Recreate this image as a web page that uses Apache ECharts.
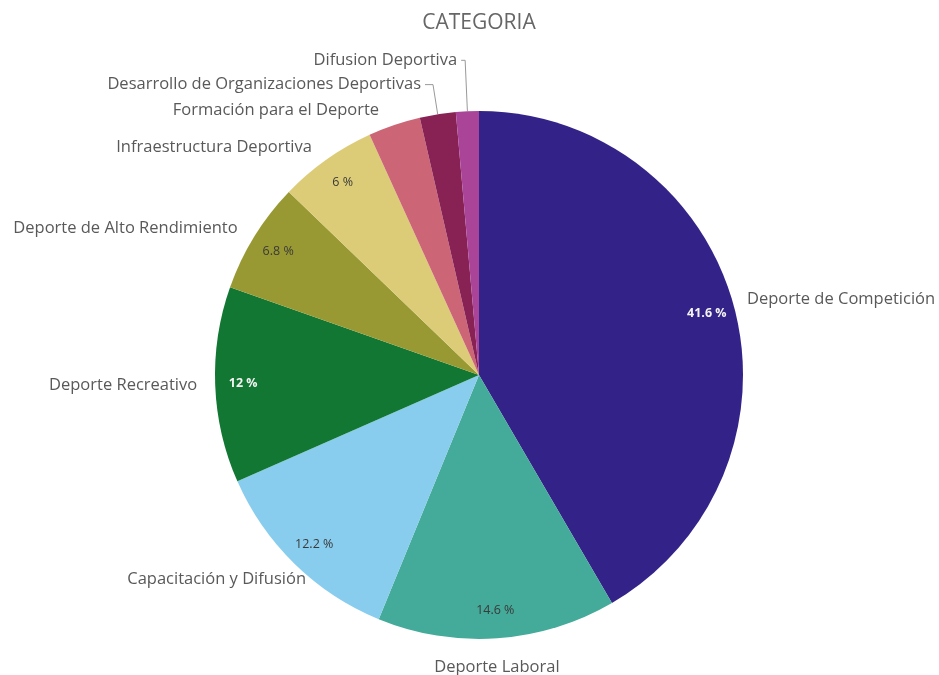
<!DOCTYPE html>
<html>
<head>
<meta charset="utf-8">
<script src="https://cdn.jsdelivr.net/npm/echarts@6/dist/echarts.min.js"></script>
<style>
html,body{margin:0;padding:0;background:#ffffff;}
#chart{width:939px;height:675px;}
</style>
</head>
<body>
<div id="chart"></div>
<script>
// ---- data ----
const titleText = 'CATEGORIA';
const categories = [
  'Deporte de Competición',
  'Deporte Laboral',
  'Capacitación y Difusión',
  'Deporte Recreativo',
  'Deporte de Alto Rendimiento',
  'Infraestructura Deportiva',
  'Formación para el Deporte',
  'Desarrollo de Organizaciones Deportivas',
  'Difusion Deportiva'
];
const values = [41.6, 14.6, 12.2, 12, 6.8, 6, 3.2, 2.2, 1.4];

// ---- styles / layout (kept apart from data) ----
const colors = ['#332288','#44AA99','#88CCEE','#117733','#999933','#DDCC77','#CC6677','#882255','#AA4499'];
// outer label placement tuning: [labelLine length, length2, vertical shift]
const labelTune = [[27,-17,0],[29,-69,0],[21,-30,0],[19,-5,22],[15,0,0],[15,2,0],[16,6,0],[30,8,0],[51,4,0]];
const showLine = [false,false,false,false,false,false,false,true,true];

function luminance(hex){
  const c = [1,3,5].map(i => parseInt(hex.substr(i,2),16)/255)
    .map(v => v <= 0.03928 ? v/12.92 : Math.pow((v+0.055)/1.055, 2.4));
  return 0.2126*c[0] + 0.7152*c[1] + 0.0722*c[2];
}

const FONT = '"Open Sans", "Noto Sans", sans-serif';
const CENTER = [479, 375];
const R = 264;

const outerData = categories.map((name, i) => {
  const t = labelTune[i];
  const shift = t[2];
  return {
    name: name,
    value: values[i],
    itemStyle: { color: colors[i] },
    label: { padding: shift >= 0 ? [shift*2, 0, 0, 0] : [0, 0, -shift*2, 0] },
    labelLine: { show: showLine[i], length: t[0], length2: t[1] }
  };
});

const innerData = categories.map((name, i) => {
  const dark = luminance(colors[i]) < 0.2;
  return {
    name: name,
    value: values[i],
    label: { color: dark ? '#f4f4f4' : '#3a3a3a', fontWeight: dark ? 'bold' : 'normal' }
  };
});

const chart = echarts.init(document.getElementById('chart'), null, { renderer: 'canvas' });
chart.setOption({
  animation: false,
  backgroundColor: '#ffffff',
  title: {
    text: titleText,
    left: CENTER[0],
    textAlign: 'center',
    top: 13,
    padding: 0,
    textStyle: { fontFamily: FONT, fontSize: 21, fontWeight: 'normal', color: '#666666' }
  },
  series: [
    {
      type: 'pie',
      center: CENTER,
      radius: R,
      startAngle: 90,
      clockwise: true,
      avoidLabelOverlap: false,
      silent: true,
      itemStyle: { borderWidth: 0 },
      label: {
        show: true,
        position: 'outside',
        formatter: '{b}',
        fontFamily: FONT,
        fontSize: 16.5,
        color: '#595959',
        distanceToLabelLine: 4
      },
      labelLine: { lineStyle: { color: '#999999', width: 1 }, smooth: false },
      data: outerData
    },
    {
      type: 'pie',
      center: CENTER,
      radius: [202, R],
      startAngle: 90,
      clockwise: true,
      avoidLabelOverlap: false,
      silent: true,
      itemStyle: { color: 'rgba(0,0,0,0)', borderWidth: 0 },
      label: {
        show: true,
        position: 'inside',
        fontFamily: FONT,
        fontSize: 12.5,
        formatter: p => p.value >= 5 ? p.value + ' %' : ''
      },
      labelLine: { show: false },
      data: innerData
    }
  ]
});
</script>
</body>
</html>
